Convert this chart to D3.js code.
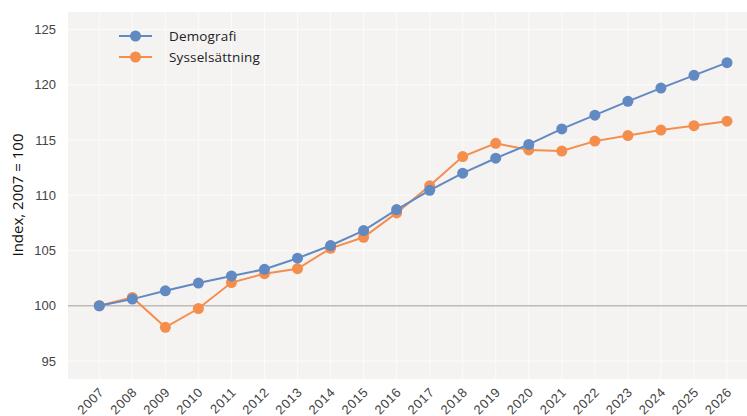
<!DOCTYPE html>
<html lang="sv">
<head>
<meta charset="UTF-8">
<title>Index 2007 = 100</title>
<script src="https://cdn.jsdelivr.net/npm/d3@7"></script>
<style>
	html,body{margin:0;padding:0;background:#fff;}
	svg{display:block;font-family:"Open Sans",sans-serif;}
	.tick text{fill:#444;}
</style>
</head>
<body>
<svg id="svg" width="747" height="416"></svg>
<script>
	var years = [2007,2008,2009,2010,2011,2012,2013,2014,2015,2016,2017,2018,2019,2020,2021,2022,2023,2024,2025,2026];
	var demografi = [100,100.6,101.35,102.05,102.7,103.3,104.3,105.45,106.8,108.7,110.45,112.0,113.35,114.6,116.0,117.25,118.5,119.7,120.85,122.0];
	var syssels = [100,100.75,98.05,99.75,102.1,102.9,103.35,105.2,106.2,108.4,110.85,113.5,114.7,114.1,114.0,114.9,115.4,115.9,116.3,116.7];
	var yTicks = [95,100,105,110,115,120,125];
	var seriesNames = ["Demografi","Sysselsättning"];
	var colors = ["#6189c2","#f58e4c"];

	var svg = d3.select("#svg");
	var plot = {left:68, top:12, right:747, bottom:379};

	var x = d3.scaleLinear().domain([2007,2026]).range([99.3,727]);
	var y = d3.scaleLinear().domain([95,125]).range([361,29.5]);

	svg.append("rect")
		.attr("x",plot.left).attr("y",plot.top)
		.attr("width",plot.right-plot.left).attr("height",plot.bottom-plot.top)
		.attr("fill","#f4f3f2");

	// grid
	svg.append("g").selectAll("line").data(years).enter().append("line")
		.attr("x1",d=>x(d)).attr("x2",d=>x(d))
		.attr("y1",plot.top).attr("y2",plot.bottom)
		.attr("stroke","#fbfbfa").attr("stroke-width",1);
	svg.append("g").selectAll("line").data(yTicks).enter().append("line")
		.attr("x1",plot.left).attr("x2",plot.right)
		.attr("y1",d=>y(d)).attr("y2",d=>y(d))
		.attr("stroke",d=>d===100?"#bdbbb8":"#fbfbfa")
		.attr("stroke-width",d=>d===100?1.5:1);

	// y axis
	var yAxis = svg.append("g")
		.attr("transform","translate("+(plot.left-12)+",0)")
		.call(d3.axisLeft(y).tickValues(yTicks).tickSize(0).tickPadding(0));
	yAxis.select(".domain").remove();
	yAxis.selectAll("text").attr("font-size",13).attr("fill","#555");

	// x axis
	var xAxis = svg.append("g")
		.attr("transform","translate(0,"+plot.bottom+")")
		.call(d3.axisBottom(x).tickValues(years).tickFormat(d3.format("d")).tickSize(0));
	xAxis.select(".domain").remove();
	xAxis.selectAll("text")
		.attr("font-size",13)
		.attr("letter-spacing",0.6)
		.attr("text-anchor","end")
		.attr("dy",0).attr("y",0)
		.attr("transform","translate(5,14) rotate(-45)");

	svg.append("text")
		.attr("transform","translate(23,195) rotate(-90)")
		.attr("text-anchor","middle")
		.attr("font-size",15)
		.attr("fill","#111")
		.text("Index, 2007 = 100");

	// orange first so the blue markers sit on top
	var line = d3.line().x((d,i)=>x(years[i])).y(d=>y(d));
	[syssels,demografi].forEach((s,j)=>{
		var k = 1-j;
		var g = svg.append("g");
		g.append("path").datum(s)
			.attr("d",line).attr("fill","none")
			.attr("stroke",colors[k]).attr("stroke-width",2);
		g.selectAll("circle").data(s).enter().append("circle")
			.attr("cx",(d,i)=>x(years[i])).attr("cy",d=>y(d))
			.attr("r",5.5).attr("fill",colors[k]);
	});

	// legend
	var leg = svg.append("g").attr("transform","translate(119,36)");
	seriesNames.forEach((name,k)=>{
		var row = leg.append("g").attr("transform","translate(0,"+(k*21)+")");
		row.append("line").attr("x1",0).attr("x2",33).attr("stroke",colors[k]).attr("stroke-width",2);
		row.append("circle").attr("cx",16.5).attr("r",5.5).attr("fill",colors[k]);
		row.append("text").attr("x",50).attr("dy","0.35em")
			.attr("font-size",13.5).attr("letter-spacing",0.15)
			.attr("fill","#222").text(name);
	});
</script>
</body>
</html>
